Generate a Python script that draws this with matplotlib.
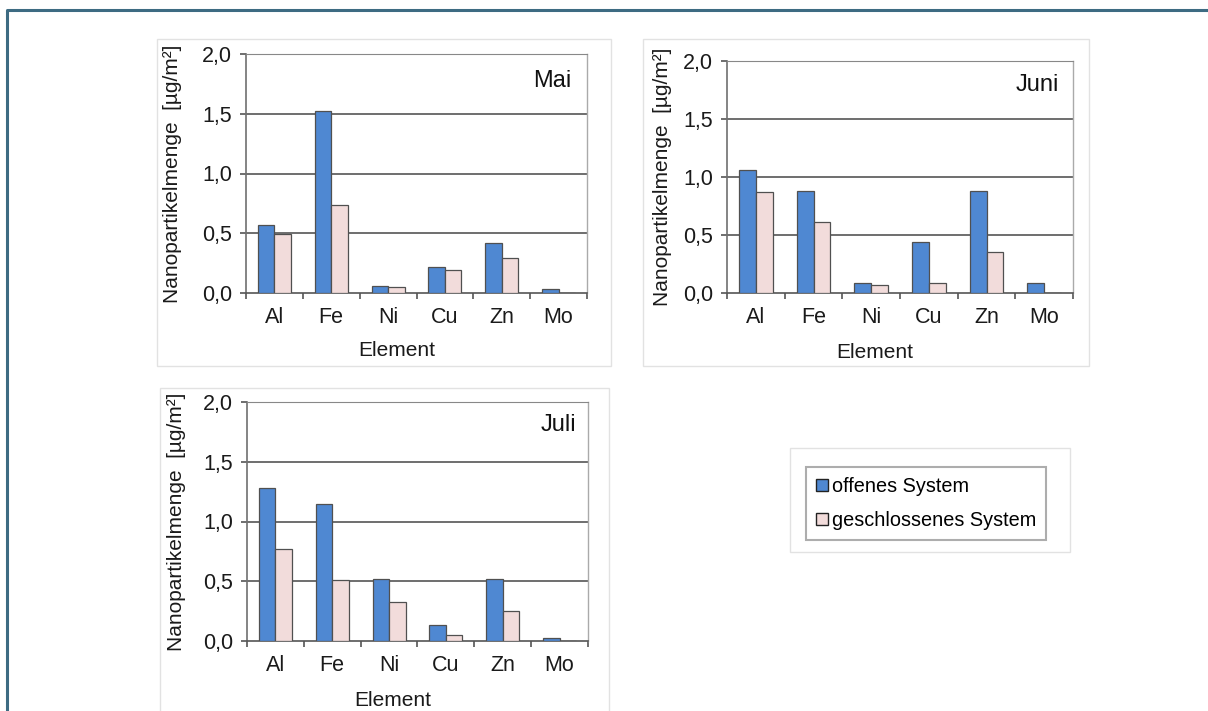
import matplotlib
matplotlib.use("Agg")
import matplotlib.pyplot as plt
from matplotlib.patches import Rectangle, Patch
from matplotlib.lines import Line2D
import numpy as np

plt.rcParams['font.family'] = ['Liberation Sans', 'DejaVu Sans']

elements = ["Al", "Fe", "Ni", "Cu", "Zn", "Mo"]
yticks = [0.0, 0.5, 1.0, 1.5, 2.0]
ytick_labels = ["0,0", "0,5", "1,0", "1,5", "2,0"]

mai_offen = [0.57, 1.52, 0.06, 0.22, 0.42, 0.03]
mai_geschl = [0.49, 0.74, 0.05, 0.19, 0.29, 0.0]
juni_offen = [1.06, 0.88, 0.09, 0.44, 0.88, 0.09]
juni_geschl = [0.87, 0.61, 0.07, 0.09, 0.35, 0.0]
juli_offen = [1.28, 1.15, 0.52, 0.13, 0.52, 0.025]
juli_geschl = [0.77, 0.51, 0.33, 0.05, 0.25, 0.0]

series_names = ["offenes System", "geschlossenes System"]
blue = "#4F88D2"
pink = "#F2DCDB"
edge = "#505050"

W, H = 1208, 711
fig = plt.figure(figsize=(W / 100, H / 100), dpi=100)
fig.patch.set_facecolor("white")


def fx(x):
    return x / W


def fy(y):
    return 1 - y / H


# outer frame (left and top)
fig.add_artist(Line2D([fx(7), fx(7), fx(1210)], [fy(715), fy(10), fy(10)],
                      transform=fig.transFigure, color="#3d6b82", lw=2.2))

# chart-area boxes
for (x0, y0, x1, y1) in [(157, 39, 611, 366), (643, 39, 1089, 366),
                         (160, 388, 609, 715), (790, 448, 1070, 552)]:
    fig.add_artist(Rectangle((fx(x0), fy(y1)), fx(x1) - fx(x0), fy(y0) - fy(y1),
                             transform=fig.transFigure, facecolor="white",
                             edgecolor="#e2e2e2", lw=1.0, zorder=0))

panels = [
    ("Mai", mai_offen, mai_geschl, (246, 54, 587, 293), (552, 81), (397, 350), 172),
    ("Juni", juni_offen, juni_geschl, (727, 61, 1073, 293), (1037, 85), (875, 352), 662),
    ("Juli", juli_offen, juli_geschl, (247, 402, 588, 641), (558, 425), (393, 700), 177),
]

x = np.arange(len(elements))
bw = 0.29
for name, offen, geschl, (x0, y0, x1, y1), (mx, my), (ex, ey), lx in panels:
    ax = fig.add_axes([fx(x0), fy(y1), fx(x1) - fx(x0), fy(y0) - fy(y1)])
    ax.set_facecolor("white")
    ax.bar(x - bw / 2, offen, bw, color=blue, edgecolor=edge, lw=0.9, zorder=3)
    ax.bar(x + bw / 2, geschl, bw, color=pink, edgecolor=edge, lw=0.9, zorder=3)
    ax.set_xlim(-0.5, len(elements) - 0.5)
    ax.set_ylim(0, 2.0)
    ax.set_yticks(yticks)
    ax.set_yticklabels(ytick_labels)
    ax.set_xticks(x)
    ax.set_xticklabels(elements)
    ax.set_xticks(np.arange(len(elements) + 1) - 0.5, minor=True)
    ax.tick_params(axis="x", which="major", length=0, pad=10, labelsize=15.5, colors="#1a1a1a")
    ax.tick_params(axis="x", which="minor", length=4, width=1.2, color="#555555", direction="out")
    ax.tick_params(axis="y", length=4, width=1.2, color="#555555", direction="out",
                   pad=6, labelsize=15.5, labelcolor="#1a1a1a")
    for yv in yticks[1:]:
        ax.axhline(yv, color="#555555", lw=1.2, zorder=1)
    ax.spines["left"].set_color("#707070")
    ax.spines["left"].set_linewidth(1.2)
    ax.spines["bottom"].set_color("#555555")
    ax.spines["bottom"].set_linewidth(1.2)
    ax.spines["top"].set_color("#888888")
    ax.spines["right"].set_color("#aaaaaa")
    ax.spines["right"].set_linewidth(1.0)
    fig.text(fx(lx), fy((y0 + y1) / 2), "Nanopartikelmenge  [µg/m²]", fontsize=15,
             rotation=90, ha="center", va="center", color="#1a1a1a")
    fig.text(fx(mx), fy(my), name, fontsize=17, ha="center", va="center", color="#111111")
    fig.text(fx(ex), fy(ey), "Element", fontsize=15, ha="center", va="center", color="#1a1a1a")

handles = [Patch(facecolor=blue, edgecolor="#222222", lw=1.0),
           Patch(facecolor=pink, edgecolor="#222222", lw=1.0)]
leg = fig.legend(handles, series_names, loc="center",
                 bbox_to_anchor=(fx(926), fy(503.5)), fontsize=14.3,
                 handlelength=0.6, handleheight=0.6, handletextpad=0.2,
                 labelspacing=0.75, borderpad=0.5, borderaxespad=0,
                 fancybox=False, frameon=True)
leg.get_frame().set_edgecolor("#999999")
leg.get_frame().set_linewidth(1.5)

fig.savefig("out.png", dpi=100, facecolor="white")
